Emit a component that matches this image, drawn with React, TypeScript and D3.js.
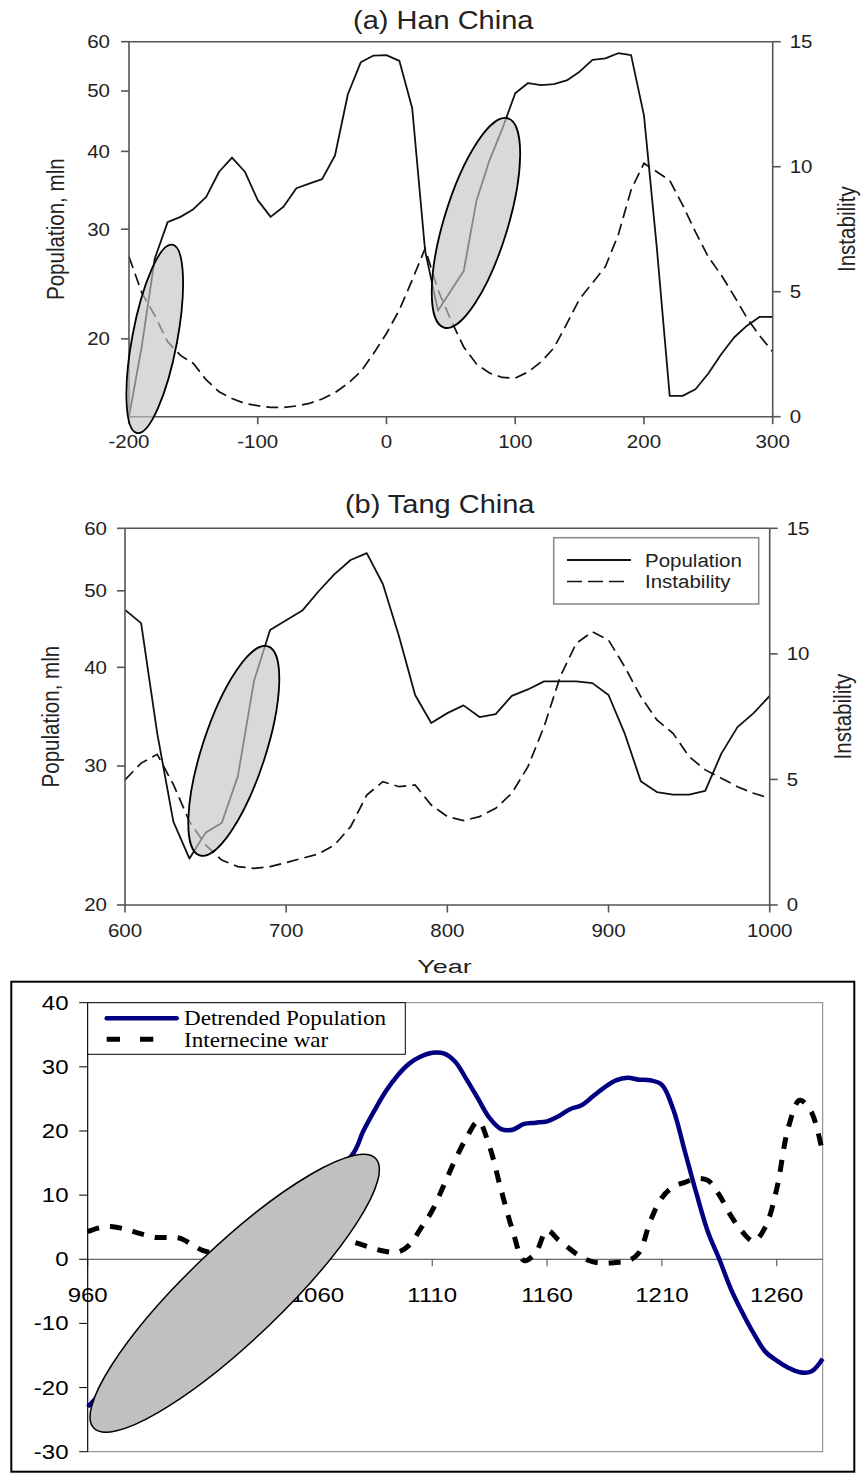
import React from "react";
import * as d3 from "d3";

const SANS = "'Liberation Sans', Arial, Helvetica, sans-serif";
const SERIF = "'Liberation Serif', 'Times New Roman', serif";

// (a) Han China, every 10 years
const hanYears = [
  -200, -190, -180, -170, -160, -150, -140, -130, -120, -110, -100, -90, -80, -70, -60, -50, -40,
  -30, -20, -10, 0, 10, 20, 30, 40, 50, 60, 70, 80, 90, 100, 110, 120, 130, 140, 150, 160, 170,
  180, 190, 200, 210, 220, 230, 240, 250, 260, 270, 280, 290, 300,
];
const hanPopulation = [
  15.0, 19.5, 26.9, 30.8, 31.4, 32.3, 33.8, 37.1, 39.1, 37.1, 33.4, 31.4, 32.6, 34.9, 35.5, 36.1,
  39.4, 49.4, 55.6, 57.0, 57.1, 55.9, 46.9, 27.7, 22.2, 23.9, 25.7, 33.4, 38.7, 43.5, 49.6, 51.5,
  51.1, 51.3, 52.0, 53.7, 56.1, 56.4, 57.5, 57.1, 45.7, 28.0, 16.2, 16.2, 16.6, 17.6, 18.9, 20.1,
  21.0, 21.7, 21.7,
];
const hanInstability = [
  6.4, 4.95, 4.05, 3.0, 2.45, 2.13, 1.47, 1.0, 0.73, 0.53, 0.44, 0.37, 0.37, 0.43, 0.53, 0.71,
  0.96, 1.33, 1.8, 2.53, 3.33, 4.27, 5.47, 6.73, 5.07, 3.87, 2.79, 2.1, 1.75, 1.57, 1.54, 1.79,
  2.19, 2.75, 3.71, 4.71, 5.35, 6.0, 7.27, 9.07, 10.14, 9.8, 9.45, 8.47, 7.39, 6.39, 5.67, 4.83,
  3.95, 3.23, 2.6,
];

// (b) Tang China, every 10 years
const tangYears = [
  600, 610, 620, 630, 640, 650, 660, 670, 680, 690, 700, 710, 720, 730, 740, 750, 760, 770, 780,
  790, 800, 810, 820, 830, 840, 850, 860, 870, 880, 890, 900, 910, 920, 930, 940, 950, 960, 970,
  980, 990, 1000,
];
const tangPopulation = [
  47.3, 45.5, 33.0, 25.5, 22.9, 24.7, 25.4, 29.1, 38.4, 44.6, 45.9, 47.2, 49.9, 52.5, 54.7, 55.8,
  51.0, 43.8, 36.9, 34.0, 35.0, 35.8, 34.6, 34.9, 36.8, 37.5, 38.4, 38.4, 38.4, 38.2, 36.9, 33.0,
  28.7, 27.8, 27.6, 27.6, 27.9, 31.1, 33.6, 35.0, 36.8,
];
const tangInstability = [
  4.98, 5.65, 6.0, 4.8, 3.32, 2.39, 1.79, 1.53, 1.46, 1.53, 1.69, 1.86, 2.03, 2.39, 3.12, 4.38,
  4.91, 4.71, 4.78, 3.98, 3.52, 3.36, 3.52, 3.85, 4.45, 5.51, 7.1, 9.09, 10.42, 10.88, 10.55, 9.49,
  8.3, 7.37, 6.84, 5.91, 5.38, 5.05, 4.71, 4.45, 4.25,
];

// (c) detrended population and internecine war (the part under the grey ellipse is a rough guess)
const detrendedYears = [
  960, 990, 1020, 1050, 1075, 1080, 1085, 1090, 1095, 1100, 1105, 1110, 1115, 1120, 1125, 1130,
  1135, 1140, 1145, 1150, 1155, 1160, 1165, 1170, 1175, 1180, 1185, 1190, 1195, 1200, 1205, 1210,
  1215, 1220, 1225, 1230, 1235, 1240, 1245, 1250, 1255, 1260, 1265, 1270, 1275, 1280,
];
const detrendedPopulation = [
  -23.0, -12.0, -1.0, 9.0, 16.2, 20.0, 23.3, 26.3, 28.7, 30.5, 31.6, 32.2, 32.1, 30.8, 28.0, 25.0,
  22.0, 20.3, 20.2, 21.1, 21.3, 21.5, 22.3, 23.4, 24.0, 25.4, 26.8, 27.9, 28.3, 28.0, 27.9, 27.2,
  23.3, 16.8, 10.3, 4.3, 0.0, -4.6, -8.3, -11.6, -14.4, -15.8, -16.9, -17.6, -17.5, -15.5,
];
const warYears = [
  960, 965, 970, 975, 980, 985, 990, 995, 1000, 1005, 1010, 1020, 1040, 1060, 1070, 1075, 1080,
  1085, 1090, 1095, 1100, 1105, 1110, 1115, 1120, 1125, 1130, 1135, 1140, 1145, 1150, 1155, 1160,
  1165, 1170, 1175, 1180, 1185, 1190, 1195, 1200, 1205, 1210, 1215, 1220, 1225, 1230, 1235, 1240,
  1245, 1250, 1255, 1260, 1265, 1270, 1275, 1280,
];
const internecineWar = [
  4.3, 4.9, 5.1, 4.8, 4.3, 3.8, 3.4, 3.4, 3.3, 2.4, 1.4, 0.8, 1.6, 3.2, 3.5, 2.8, 2.2, 1.6, 1.2,
  1.1, 2.2, 4.8, 7.6, 11.5, 15.5, 19.0, 21.5, 17.5, 10.8, 4.5, -0.2, 1.0, 4.5, 3.0, 1.6, 0.3, -0.4,
  -0.6, -0.5, -0.3, 1.0, 6.0, 9.6, 11.3, 12.0, 12.6, 12.3, 10.0, 6.8, 4.3, 2.8, 5.0, 11.0, 20.5,
  24.8, 23.0, 16.5,
];

const popTicks = [20, 30, 40, 50, 60];
const instTicks = [0, 5, 10, 15];
const hanTicks = [-200, -100, 0, 100, 200, 300];
const tangTicks = [600, 700, 800, 900, 1000];
const cTicksX = [960, 1010, 1060, 1110, 1160, 1210, 1260];
const cTicksY = [-30, -20, -10, 0, 10, 20, 30, 40];

type LabelProps = {
  x: number;
  y: number;
  text: string;
  size: number;
  anchor?: "start" | "middle" | "end";
  sy?: number;
  sx?: number;
  rotate?: boolean;
  family?: string;
  fill?: string;
};

const Label = ({ x, y, text, size, anchor = "middle", sy = 1, sx = 1, rotate = false, family = SANS, fill = "#222" }: LabelProps) => {
  const tf = rotate
    ? `translate(${x},${y}) rotate(-90) scale(${sx},1)`
    : `translate(${x},${y}) scale(${sx},${sy})`;
  return (
    <text transform={tf} fontSize={size} textAnchor={anchor} fontFamily={family} fill={fill}>
      {text}
    </text>
  );
};

type Oval = { year: number; value: number; rx: number; ry: number; angle: number };

interface PanelProps {
  years: number[];
  pop: number[];
  inst: number[];
  xDomain: [number, number];
  xTicks: number[];
  left: number;
  right: number;
  top: number;
  bottom: number;
  popMin: number;
  title: string;
  titleX: number;
  titleY: number;
  tickLabelY: number;
  popLabelRight: number;
  popTitleX: number;
  instTitleX: number;
  ovals: Oval[];
  legend?: boolean;
}

function SigmaPanel(p: PanelProps) {
  const x = d3.scaleLinear().domain(p.xDomain).range([p.left, p.right]);
  const yPop = d3.scaleLog().domain([p.popMin, 60]).range([p.bottom, p.top]);
  const yInst = d3.scaleLinear().domain([0, 15]).range([p.bottom, p.top]);
  const popLine = d3.line<number>().x((_, i) => x(p.years[i])).y((d) => yPop(d));
  const instLine = d3.line<number>().x((_, i) => x(p.years[i])).y((d) => yInst(d));
  const mid = (p.top + p.bottom) / 2;
  const axis = "#555";

  return (
    <g>
      <Label x={p.titleX} y={p.titleY} text={p.title} size={29} sy={0.88} />

      <path d={popLine(p.pop) || ""} fill="none" stroke="#111" strokeWidth={1.8} strokeLinejoin="round" />
      <path d={instLine(p.inst) || ""} fill="none" stroke="#111" strokeWidth={1.7} strokeDasharray="12,6" />

      {/* frame */}
      <line x1={p.left} x2={p.right} y1={p.top} y2={p.top} stroke={axis} strokeWidth={1.6} />
      <line x1={p.left} x2={p.right} y1={p.bottom} y2={p.bottom} stroke={axis} strokeWidth={1.6} />
      <line x1={p.left} x2={p.left} y1={p.top} y2={p.bottom} stroke={axis} strokeWidth={1.6} />
      <line x1={p.right} x2={p.right} y1={p.top} y2={p.bottom} stroke={axis} strokeWidth={1.6} />

      {popTicks.map((t) => (
        <g key={"pl" + t}>
          <line x1={p.left - 8} x2={p.left} y1={yPop(t)} y2={yPop(t)} stroke={axis} strokeWidth={1.6} />
          <Label x={p.popLabelRight} y={yPop(t) + 6.3} text={String(t)} size={20.5} sy={0.86} anchor="end" />
        </g>
      ))}
      {instTicks.map((t) => (
        <g key={"ir" + t}>
          <line x1={p.right} x2={p.right + 8} y1={yInst(t)} y2={yInst(t)} stroke={axis} strokeWidth={1.6} />
          <Label x={p.right + 17} y={yInst(t) + 6.3} text={String(t)} size={20.5} sy={0.86} anchor="start" />
        </g>
      ))}
      {p.xTicks.map((t) => (
        <g key={"xt" + t}>
          <line x1={x(t)} x2={x(t)} y1={p.bottom} y2={p.bottom + 7.5} stroke={axis} strokeWidth={1.6} />
          <Label x={x(t)} y={p.tickLabelY} text={String(t)} size={20.5} sy={0.86} />
        </g>
      ))}

      <Label x={p.popTitleX} y={mid} text="Population, mln" size={24.5} sx={0.84} rotate />
      <Label x={p.instTitleX} y={mid} text="Instability" size={24.5} sx={0.84} rotate />

      {p.legend && (
        <g>
          <rect x={553.7} y={537.7} width={205} height={66.3} fill="#fff" stroke="#888" strokeWidth={1.5} />
          <line x1={567} x2={631} y1={560} y2={560} stroke="#111" strokeWidth={1.8} />
          <line x1={567} x2={624} y1={581.5} y2={581.5} stroke="#111" strokeWidth={1.7} strokeDasharray="15,6" />
          <Label x={645} y={566.7} text="Population" size={20.5} sy={0.9} anchor="start" />
          <Label x={645} y={588.3} text="Instability" size={20.5} sy={0.9} anchor="start" />
        </g>
      )}

      {p.ovals.map((o, i) => {
        const cx = x(o.year);
        const cy = yPop(o.value);
        return (
          <ellipse
            key={"ov" + i}
            cx={cx}
            cy={cy}
            rx={o.rx}
            ry={o.ry}
            transform={`rotate(${o.angle},${cx},${cy})`}
            fill="#c4c4c4"
            fillOpacity={0.65}
            stroke="#000"
            strokeWidth={1.8}
          />
        );
      })}
    </g>
  );
}

function DetrendedPanel() {
  const left = 87.7;
  const right = 822.7;
  const top = 1002.7;
  const bottom = 1451.7;
  const x = d3.scaleLinear().domain([960, 1280]).range([left, right]);
  const y = d3.scaleLinear().domain([-30, 40]).range([bottom, top]);
  const popLine = d3
    .line<number>()
    .x((_, i) => x(detrendedYears[i]))
    .y((d) => y(d))
    .curve(d3.curveCatmullRom.alpha(0.5));
  const warLine = d3
    .line<number>()
    .x((_, i) => x(warYears[i]))
    .y((d) => y(d))
    .curve(d3.curveCatmullRom.alpha(0.5));
  const y0 = y(0);
  const cx = x(1024);
  const cy = y(-5.3);

  return (
    <g>
      <rect x={11.3} y={981.7} width={843} height={490} fill="#fff" stroke="#000" strokeWidth={2} />
      <rect x={left} y={top} width={right - left} height={bottom - top} fill="none" stroke="#808080" strokeWidth={1} />

      <line x1={left} x2={right} y1={y0} y2={y0} stroke="#404040" strokeWidth={1} />
      {cTicksX.map((t) => (
        <g key={"cx" + t}>
          <line x1={x(t)} x2={x(t)} y1={y0} y2={y0 + 7} stroke="#404040" strokeWidth={1} />
          <Label x={x(t)} y={1301.7} text={String(t)} size={24} sy={0.86} fill="#000" />
        </g>
      ))}
      <line x1={left} x2={left} y1={top} y2={bottom} stroke="#000" strokeWidth={1} />
      {cTicksY.map((t) => (
        <g key={"cy" + t}>
          <line x1={left - 8.5} x2={left} y1={y(t)} y2={y(t)} stroke="#000" strokeWidth={1} />
          <Label x={68.5} y={y(t) + 7} text={String(t)} size={24} sy={0.86} anchor="end" fill="#000" />
        </g>
      ))}

      <path d={popLine(detrendedPopulation) || ""} fill="none" stroke="#000080" strokeWidth={4.5} strokeLinejoin="round" />
      <path d={warLine(internecineWar) || ""} fill="none" stroke="#000" strokeWidth={5} strokeDasharray="12,11" />

      <rect x={left} y={top} width={317.6} height={51.6} fill="#fff" stroke="#000" strokeWidth={1} />
      <line x1={106.7} x2={176.7} y1={1018.3} y2={1018.3} stroke="#000080" strokeWidth={4.5} strokeLinecap="round" />
      <line x1={106.7} x2={153.3} y1={1039.3} y2={1039.3} stroke="#000" strokeWidth={5} strokeDasharray="13.3,20" />
      <Label x={184} y={1024.5} text="Detrended Population" size={21} sx={1.1} sy={0.95} anchor="start" family={SERIF} fill="#000" />
      <Label x={184} y={1046.5} text="Internecine war" size={21} sx={1.1} sy={0.95} anchor="start" family={SERIF} fill="#000" />

      <ellipse
        cx={cx}
        cy={cy}
        rx={195}
        ry={47}
        transform={`rotate(-43.7,${cx},${cy})`}
        fill="#c0c0c0"
        stroke="#000"
        strokeWidth={1.5}
      />
    </g>
  );
}

export default function App() {
  return (
    <svg
      width={864}
      height={1479}
      viewBox="0 0 864 1479"
      style={{ position: "absolute", left: 0, top: 0, background: "#fff", display: "block" }}
    >
      <rect x={0} y={0} width={864} height={1479} fill="#fff" />
      <SigmaPanel
        years={hanYears}
        pop={hanPopulation}
        inst={hanInstability}
        xDomain={[-200, 300]}
        xTicks={hanTicks}
        left={129}
        right={772.7}
        top={41.7}
        bottom={416.7}
        popMin={15}
        title="(a) Han China"
        titleX={443.2}
        titleY={29.3}
        tickLabelY={448.3}
        popLabelRight={110}
        popTitleX={64.2}
        instTitleX={855}
        ovals={[
          { year: -180, value: 20.0, rx: 22.5, ry: 95.8, angle: 10.65 },
          { year: 69.5, value: 30.7, rx: 31.9, ry: 109.4, angle: 17.0 },
        ]}
      />
      <SigmaPanel
        years={tangYears}
        pop={tangPopulation}
        inst={tangInstability}
        xDomain={[600, 1000]}
        xTicks={tangTicks}
        left={125}
        right={769.7}
        top={528.3}
        bottom={905}
        popMin={20}
        title="(b) Tang China"
        titleX={439.7}
        titleY={513.3}
        tickLabelY={936.7}
        popLabelRight={107}
        popTitleX={59.2}
        instTitleX={851}
        ovals={[{ year: 667.5, value: 31.35, rx: 31.6, ry: 110, angle: 18.1 }]}
        legend
      />
      <Label x={444.4} y={973} text="Year" size={27} sy={0.7} />
      <DetrendedPanel />
    </svg>
  );
}
